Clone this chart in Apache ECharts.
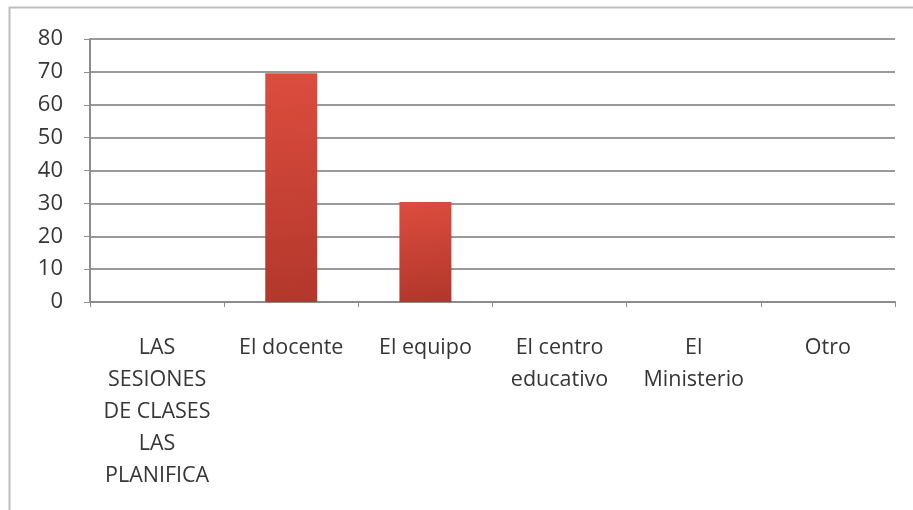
<!DOCTYPE html>
<html>
<head>
<meta charset="utf-8">
<script src="https://cdn.jsdelivr.net/npm/echarts@6/dist/echarts.min.js"></script>
<style>
  html, body { margin: 0; padding: 0; background: #ffffff; }
  #chart { width: 913px; height: 510px; }
</style>
</head>
<body>
<div id="chart"></div>
<script>
// Who plans the class sessions
const categories = [
  'LAS\nSESIONES\nDE CLASES\nLAS\nPLANIFICA',
  'El docente',
  'El equipo',
  'El centro\neducativo',
  'El\nMinisterio',
  'Otro'
];
const values = [0, 69.6, 30.4, 0, 0, 0];
const yTicks = { min: 0, max: 80, interval: 10 };

const textColor = '#363636';
const fontFamily = '"Open Sans", Lato, sans-serif';

const chart = echarts.init(document.getElementById('chart'), null, { renderer: 'canvas' });
chart.setOption({
  animation: false,
  backgroundColor: '#ffffff',
  graphic: [{
    type: 'rect',
    shape: { x: 9.5, y: 7.5, width: 920, height: 520 },
    style: { fill: 'none', stroke: '#bdbdbd', lineWidth: 2 },
    silent: true
  }],
  grid: { left: 90, right: 18, top: 39, bottom: 208, containLabel: false },
  xAxis: {
    type: 'category',
    data: categories,
    axisLine: { show: true, lineStyle: { color: '#8c8c8c', width: 2 } },
    axisTick: { show: true, alignWithLabel: false, length: 5, lineStyle: { color: '#8c8c8c', width: 1 } },
    axisLabel: {
      interval: 0,
      margin: 30,
      color: textColor,
      fontFamily: fontFamily,
      fontSize: 21.5,
      lineHeight: 32,
      align: 'center',
      verticalAlign: 'top'
    },
    splitLine: { show: false }
  },
  yAxis: {
    type: 'value',
    min: yTicks.min,
    max: yTicks.max,
    interval: yTicks.interval,
    axisLine: { show: true, lineStyle: { color: '#8c8c8c', width: 2 } },
    axisTick: { show: true, length: 6, lineStyle: { color: '#8c8c8c', width: 1 } },
    axisLabel: {
      margin: 27,
      color: textColor,
      fontFamily: fontFamily,
      fontSize: 22
    },
    splitLine: { show: true, lineStyle: { color: '#9a9a9a', width: 2 } }
  },
  series: [{
    type: 'bar',
    data: values,
    barWidth: 52,
    itemStyle: {
      color: new echarts.graphic.LinearGradient(0, 0, 0.3, 1, [
        { offset: 0, color: '#dc4d3e' },
        { offset: 1, color: '#b3372c' }
      ])
    }
  }]
});
</script>
</body>
</html>
